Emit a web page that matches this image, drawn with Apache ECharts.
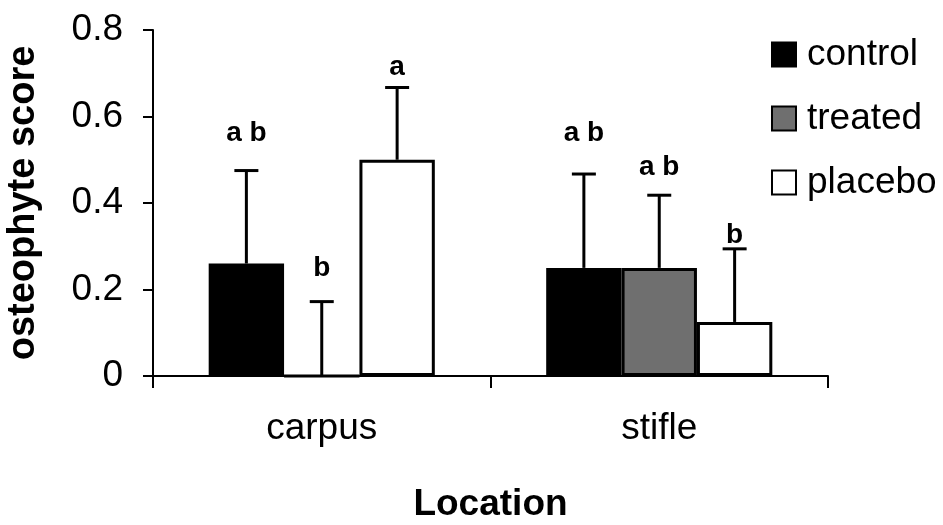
<!DOCTYPE html>
<html>
<head>
<meta charset="utf-8">
<script src="https://cdn.jsdelivr.net/npm/echarts@6/dist/echarts.min.js"></script>
<style>html,body{margin:0;padding:0;background:#fff}#chart{width:943px;height:525px}</style>
</head>
<body>
<div id="chart"></div>
<script>
const categories = ['carpus', 'stifle'];
const seriesNames = ['control', 'treated', 'placebo'];
const control = [0.26, 0.25];
const treated = [0, 0.25];
const placebo = [0.5, 0.125];
const controlErr = [0.215, 0.217];
const treatedErr = [0.172, 0.168];
const placeboErr = [0.167, 0.169];
const controlLetters = ['a b', 'a b'];
const treatedLetters = ['b', 'a b'];
const placeboLetters = ['a', 'b'];
const controlLetterY = [0.562, 0.562];
const treatedLetterY = [0.25, 0.483];
const placeboLetterY = [0.714, 0.326];
const yTicks = [0, 0.2, 0.4, 0.6, 0.8];

const FONT = "'Liberation Sans', Arial, sans-serif";
const values = [control, treated, placebo];
const errs = [controlErr, treatedErr, placeboErr];
const letters = [controlLetters, treatedLetters, placeboLetters];
const letterY = [controlLetterY, treatedLetterY, placeboLetterY];
const fills = ['#000000', '#6f6f6f', '#ffffff'];
const GAP = 0.33;

const barSeries = seriesNames.map((name, i) => ({
  name: name,
  type: 'bar',
  data: values[i],
  barGap: '0%',
  barCategoryGap: (GAP * 100) + '%',
  itemStyle: { color: fills[i], borderColor: '#000', borderWidth: i === 0 ? 0 : 3 },
  z: 2
}));

const errSeries = seriesNames.map((name, i) => ({
  type: 'custom',
  name: name + '_err',
  data: categories.map((c, k) => [k, values[i][k], values[i][k] + errs[i][k], letterY[i][k]]),
  z: 5,
  silent: true,
  renderItem: function (params, api) {
    const k = api.value(0);
    const band = api.size([1, 0])[0];
    const bw = band * (1 - GAP) / 3;
    const off = (i - 1) * bw;
    const base = api.coord([k, api.value(1)]);
    const top = api.coord([k, api.value(2)]);
    const lab = api.coord([k, api.value(3)]);
    const x = base[0] + off;
    return {
      type: 'group',
      children: [
        { type: 'line', shape: { x1: x, y1: base[1], x2: x, y2: top[1] }, style: { stroke: '#000', lineWidth: 3 } },
        { type: 'line', shape: { x1: x - 12, y1: top[1], x2: x + 12, y2: top[1] }, style: { stroke: '#000', lineWidth: 3 } },
        { type: 'text', x: x, y: lab[1], style: { text: letters[i][k], fill: '#000', font: 'bold 28px ' + FONT, align: 'center', verticalAlign: 'middle' } }
      ]
    };
  }
}));

const chart = echarts.init(document.getElementById('chart'), null, { renderer: 'canvas' });
chart.setOption({
  animation: false,
  backgroundColor: '#fff',
  grid: { left: 153, right: 115, top: 30, bottom: 149, containLabel: false, outerBoundsMode: 'none' },
  legend: {
    data: seriesNames,
    orient: 'vertical',
    left: 766,
    top: 31,
    itemWidth: 24,
    itemHeight: 24,
    itemGap: 27,
    icon: 'rect',
    textStyle: { fontFamily: FONT, fontSize: 37, color: '#000', padding: [0, 0, 0, 6] },
    itemStyle: { borderWidth: 2, borderColor: '#000' }
  },
  xAxis: {
    type: 'category',
    data: categories,
    name: 'Location',
    nameLocation: 'middle',
    nameGap: 110,
    nameTextStyle: { fontFamily: FONT, fontSize: 37, fontWeight: 'bold', color: '#000' },
    axisLine: { lineStyle: { color: '#000', width: 2 } },
    axisTick: { show: true, length: 12, lineStyle: { color: '#000', width: 2 } },
    axisLabel: { fontFamily: FONT, fontSize: 37, color: '#000', margin: 34 }
  },
  yAxis: {
    type: 'value',
    min: yTicks[0],
    max: yTicks[yTicks.length - 1],
    interval: 0.2,
    name: 'osteophyte score',
    nameLocation: 'middle',
    nameGap: 110,
    nameTextStyle: { fontFamily: FONT, fontSize: 38, fontWeight: 'bold', color: '#000' },
    axisLine: { show: true, lineStyle: { color: '#000', width: 2 } },
    axisTick: { show: true, length: 10, lineStyle: { color: '#000', width: 2 } },
    splitLine: { show: false },
    axisLabel: {
      fontFamily: FONT, fontSize: 37, color: '#000', margin: 30,
      formatter: v => (v === 0 ? '0' : v.toFixed(1))
    }
  },
  series: barSeries.concat(errSeries)
});
</script>
</body>
</html>
